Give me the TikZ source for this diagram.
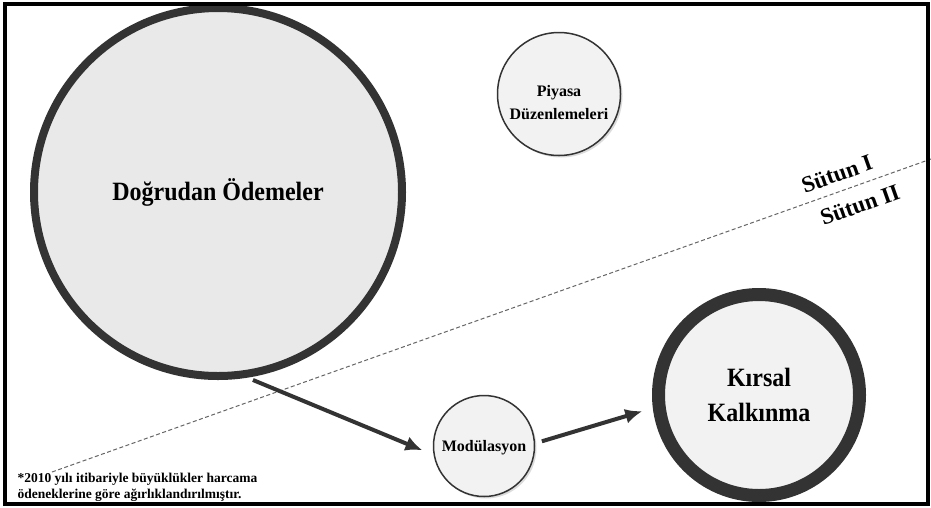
\documentclass[tikz,border=0pt]{standalone}
\usepackage{fontspec}
\setmainfont{Liberation Serif}
\usepackage{xcolor}
\usetikzlibrary{arrows.meta,calc,shadows,positioning}
\tikzset{
    pool/.style={circle,draw=black!80,inner sep=0pt,
        drop shadow={shadow xshift=2pt,shadow yshift=-2pt,fill=gray!60,opacity=.45}},
    flow/.style={draw=black!80,line width=4pt,-{Latex[length=17pt,width=15pt]}},
    pillar/.style={draw=gray!80!black,line width=1pt,dash pattern=on 4pt off 2.5pt},
    pillarlabel/.style={font=\bfseries\fontsize{23}{26}\selectfont,rotate=19.5,inner sep=0pt}
}

\begin{document}
\begin{tikzpicture}[x=1pt,y=-1pt]
    \useasboundingbox (0,0) rectangle (931,507);
    \fill[white] (0,0) rectangle (931,507);

    % separating line between the two pillars
    \coordinate (S1) at (52,472);
    \coordinate (S2) at (931,159);
    \draw[pillar] (S1) -- (S2);

    % circles sized by weight
    \node[pool,fill=gray!17,line width=8pt,minimum size=368pt] (dogrudan) at (218,192) {};
    \node[font=\bfseries\fontsize{24}{28}\selectfont,yscale=1.1] at (dogrudan) {Doğrudan Ödemeler};

    \node[pool,fill=gray!10,line width=1.5pt,minimum size=123pt] (piyasa) at (559,94) {};
    \node[font=\bfseries\fontsize{16}{23}\selectfont,align=center] at ($(piyasa)+(0,9)$) {Piyasa\\Düzenlemeleri};

    \node[pool,fill=gray!10,line width=1.5pt,minimum size=101pt] (modulasyon) at (484,446) {};
    \node[font=\bfseries\fontsize{16}{20}\selectfont] at ($(modulasyon)+(0,2)$) {Modülasyon};

    \node[pool,fill=gray!10,line width=13pt,minimum size=201pt] (kirsal) at (759,395) {};
    \node[font=\bfseries\fontsize{24}{32}\selectfont,align=center,yscale=1.1] at (kirsal) {Kırsal\\Kalkınma};

    % pillar labels
    \node[pillarlabel] (sutun1) at (837,174) {Sütun I};
    \node[pillarlabel] (sutun2) at (860,205) {Sütun II};

    % transfers
    \draw[flow,shorten <=6pt,shorten >=12pt] (dogrudan.-81) -- (modulasyon.190);
    \draw[flow,shorten <=7pt,shorten >=11pt] (modulasyon.3) -- (kirsal.187);

    % footnote
    \node[font=\bfseries\fontsize{13.5}{16}\selectfont,align=left,anchor=west] (note) at (14,487)
        {*2010 yılı itibariyle büyüklükler harcama\\ödeneklerine göre ağırlıklandırılmıştır.};

    % frame
    \draw[line width=3.5pt] (5,4) rectangle (928,504);
\end{tikzpicture}
\end{document}
